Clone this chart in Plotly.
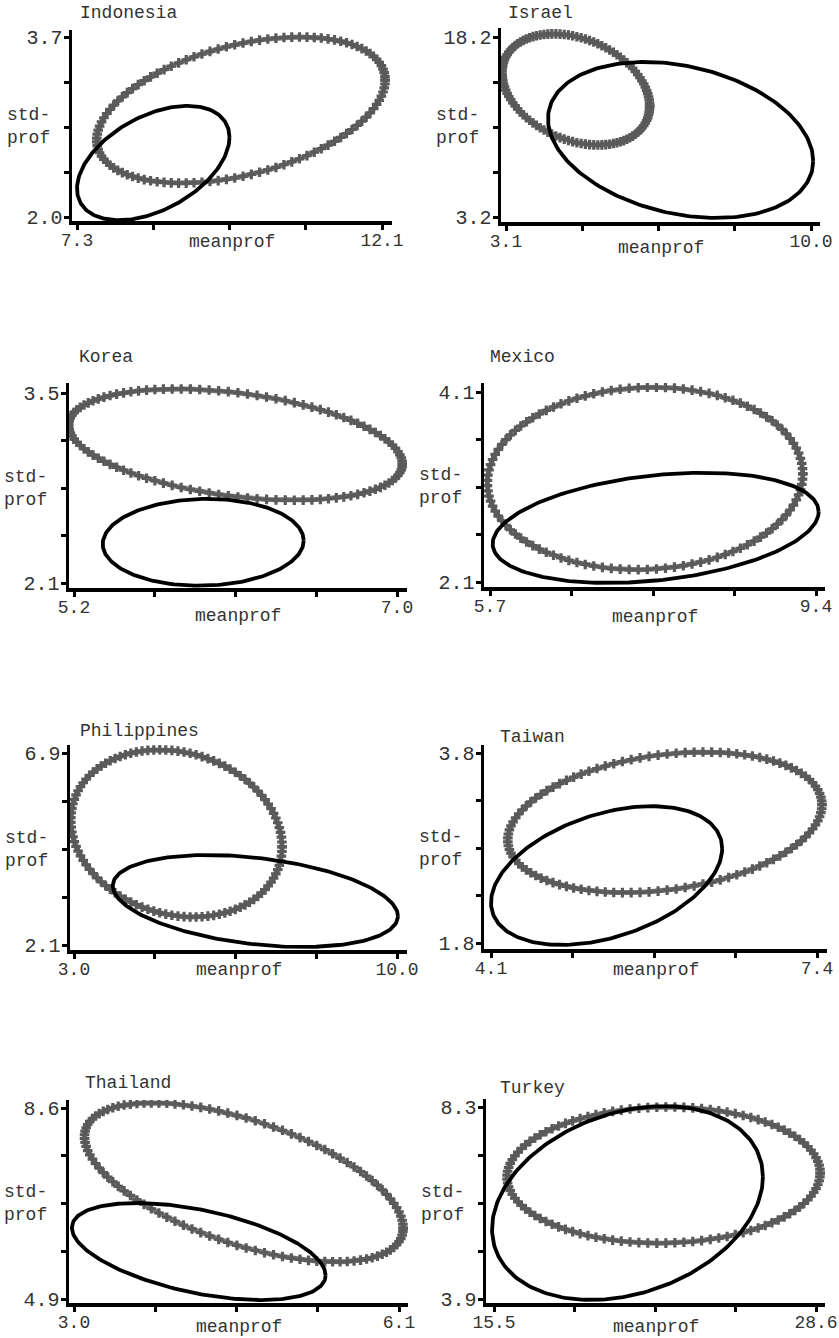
import numpy as np
import plotly.graph_objects as go

# ---------------- data ----------------
countries = ["Indonesia", "Israel", "Korea", "Mexico",
             "Philippines", "Taiwan", "Thailand", "Turkey"]

# axis end labels (first / last tick)
x_lo = [7.3, 3.1, 5.2, 5.7, 3.0, 4.1, 3.0, 15.5]
x_hi = [12.1, 10.0, 7.0, 9.4, 10.0, 7.4, 6.1, 28.6]
y_lo = [2.0, 3.2, 2.1, 2.1, 2.1, 1.8, 4.9, 3.9]
y_hi = [3.7, 18.2, 3.5, 4.1, 6.9, 3.8, 8.6, 8.3]

# gray (+ marker) ellipse: centre, half-extent in x / y, correlation
gray_mx = [9.88, 4.68, 6.10, 7.46, 5.22, 5.86, 4.62, 22.40]
gray_my = [3.01, 13.83, 3.12, 3.19, 4.89, 3.07, 7.16, 6.74]
gray_rx = [2.27, 1.67, 0.93, 1.79, 2.29, 1.59, 1.52, 6.37]
gray_ry = [0.69, 4.63, 0.41, 0.96, 2.09, 0.74, 1.54, 1.56]
gray_rho = [0.41, -0.30, -0.35, 0.05, -0.16, 0.25, -0.575, 0.03]

# black ellipse
black_mx = [8.50, 7.05, 5.92, 7.58, 6.93, 5.27, 4.19, 20.93]
black_my = [2.51, 9.62, 2.40, 2.67, 3.20, 2.51, 5.82, 6.10]
black_rx = [1.20, 3.00, 0.56, 1.85, 3.09, 1.17, 1.21, 5.51]
black_ry = [0.54, 6.50, 0.32, 0.58, 1.15, 0.73, 0.94, 2.22]
black_rho = [0.45, -0.27, 0.04, 0.29, -0.33, 0.39, -0.49, 0.27]

# ---------------- layout geometry (page pixels) ----------------
W, H = 839, 1338
# plot box L, R, T, B and tick pixel positions x first, x last, y top, y bottom
geom = [
    (72, 392, 30, 221, 77, 382, 37, 217),
    (501, 820, 28, 222, 506, 811, 37, 217),
    (69, 407, 383, 588, 74, 397, 393, 583),
    (484, 825, 383, 587, 490, 816, 392, 582),
    (70, 407, 745, 950, 74, 397, 753, 945),
    (484, 827, 745, 949, 491, 817, 753, 943),
    (69, 408, 1100, 1303, 74, 399, 1108, 1299),
    (486, 825, 1099, 1303, 494, 816, 1107, 1299),
]
title_pos = [(78, 13), (506, 13), (77, 357), (488, 357),
             (78, 731), (498, 737), (83, 1083), (498, 1088)]
xlab_off = [21, 26, 28, 30, 20, 21, 24, 24]

FONT = "Courier New, Liberation Mono, monospace"
TXT = "#333333"


def px(x):
    return x / W


def py(y):
    return 1 - y / H


def ellipse(mx, my, rx, ry, rho, n):
    t = np.linspace(0, 2 * np.pi, n)
    d = np.arccos(np.clip(rho, -1, 1))
    return mx + rx * np.cos(t), my + ry * np.cos(t - d)


fig = go.Figure()
layout = dict(width=W, height=H, paper_bgcolor="white", plot_bgcolor="white",
              template="none",
              margin=dict(l=0, r=0, t=0, b=0, pad=0, autoexpand=False), showlegend=False,
              font=dict(family=FONT, color=TXT, size=18))
annotations = []

for i, name in enumerate(countries):
    k = "" if i == 0 else str(i + 1)
    L, R, T, B, tx0, tx1, ty0, ty1 = geom[i]
    xs = (x_hi[i] - x_lo[i]) / (tx1 - tx0)
    ys = (y_hi[i] - y_lo[i]) / (ty1 - ty0)
    xr = [x_lo[i] - (tx0 - L) * xs, x_hi[i] + (R - tx1) * xs]
    yr = [y_lo[i] - (B - ty1) * ys, y_hi[i] + (ty0 - T) * ys]

    gx, gy = ellipse(gray_mx[i], gray_my[i], gray_rx[i], gray_ry[i], gray_rho[i], 110)
    bx, by = ellipse(black_mx[i], black_my[i], black_rx[i], black_ry[i], black_rho[i], 240)

    fig.add_trace(go.Scatter(x=gx, y=gy, mode="lines+markers",
                             line=dict(color="#787878", width=5),
                             marker=dict(symbol="cross", size=8, color="#5a5a5a",
                                         line=dict(width=0)),
                             xaxis="x" + k, yaxis="y" + k, hoverinfo="skip"))
    fig.add_trace(go.Scatter(x=bx, y=by, mode="lines",
                             line=dict(color="black", width=3.8),
                             xaxis="x" + k, yaxis="y" + k, hoverinfo="skip"))

    xt = np.linspace(x_lo[i], x_hi[i], 5)
    yt = np.linspace(y_lo[i], y_hi[i], 5)
    layout["xaxis" + k] = dict(
        domain=[px(L), px(R)], range=xr, anchor="y" + k, automargin=False,
        showgrid=False, zeroline=False, showline=True, linecolor="black", linewidth=3.5,
        ticks="outside", ticklen=5, tickwidth=3, tickcolor="black",
        ticklabelstandoff=-5,
        tickvals=list(xt), ticktext=[f"{x_lo[i]:.1f}", "", "", "", f"{x_hi[i]:.1f}"],
        tickfont=dict(family=FONT, size=18, color=TXT), fixedrange=True)
    layout["yaxis" + k] = dict(
        domain=[py(B), py(T)], range=yr, anchor="x" + k, automargin=False,
        showgrid=False, zeroline=False, showline=True, linecolor="black", linewidth=3.5,
        ticks="outside", ticklen=5, tickwidth=3, tickcolor="black",
        ticklabelstandoff=-3,
        tickvals=list(yt), ticktext=[f"{y_lo[i]:.1f}", "", "", "", f"{y_hi[i]:.1f}"],
        tickfont=dict(family=FONT, size=20, color=TXT), fixedrange=True)

    # panel title
    tx, ty = title_pos[i]
    annotations.append(dict(text=name, xref="paper", yref="paper",
                            x=px(tx), y=py(ty), xanchor="left", yanchor="middle",
                            showarrow=False, font=dict(family=FONT, size=18, color=TXT)))
    # x axis title
    annotations.append(dict(text="meanprof", xref="paper", yref="paper",
                            x=px((L + R) / 2), y=py(B + xlab_off[i]),
                            xanchor="center", yanchor="middle", showarrow=False,
                            font=dict(family=FONT, size=18, color=TXT)))
    # y axis title
    annotations.append(dict(text="std-<br>prof", xref="paper", yref="paper",
                            x=px(L - 20), y=py((ty0 + ty1) / 2),
                            xanchor="right", yanchor="middle", align="left",
                            showarrow=False, font=dict(family=FONT, size=18, color=TXT)))

layout["annotations"] = annotations
fig.update_layout(**layout)
fig.write_html("out.html",
               config={"displayModeBar": False, "staticPlot": True},
               post_script="document.body.style.margin='0';document.body.style.overflow='hidden';")
